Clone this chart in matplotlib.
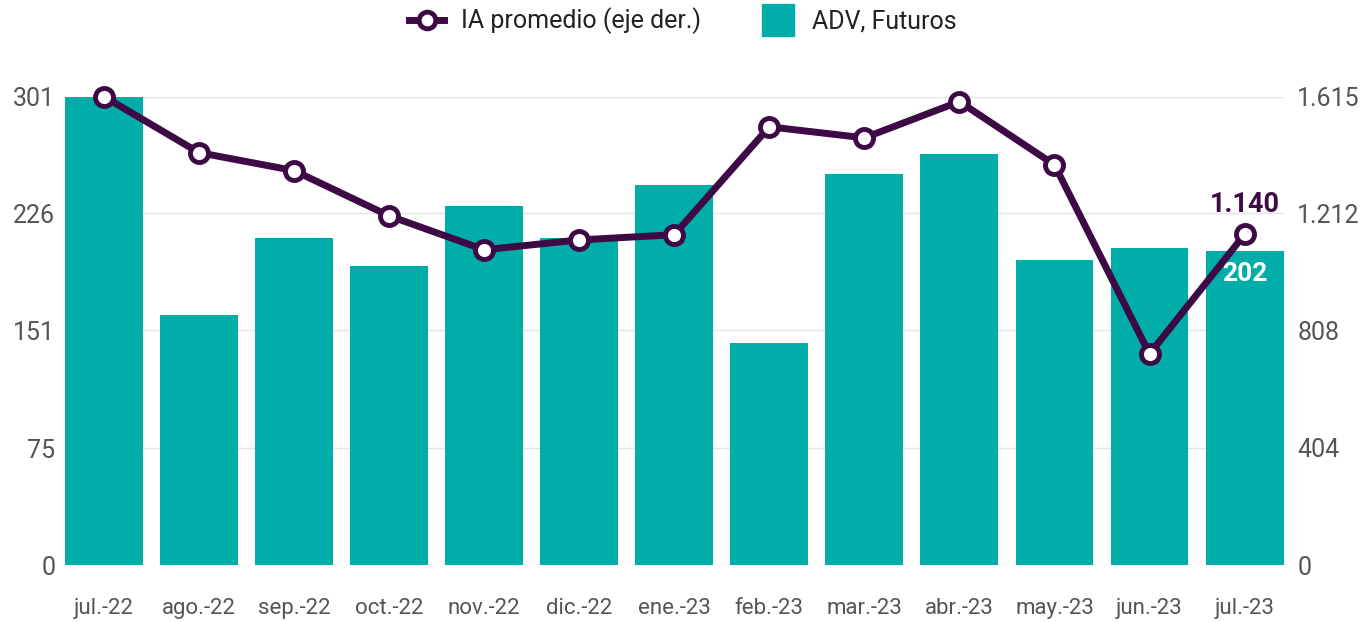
import numpy as np
import matplotlib.pyplot as plt
from matplotlib.lines import Line2D
from matplotlib.ticker import FuncFormatter

plt.rcParams['font.family'] = ['Roboto', 'DejaVu Sans']

months = ['jul.-22', 'ago.-22', 'sep.-22', 'oct.-22', 'nov.-22', 'dic.-22', 'ene.-23',
          'feb.-23', 'mar.-23', 'abr.-23', 'may.-23', 'jun.-23', 'jul.-23']
adv = [301, 161, 210, 192, 231, 210, 244, 143, 251, 264, 196, 204, 202]
ia = [1615, 1422, 1360, 1204, 1087, 1121, 1139, 1511, 1473, 1598, 1380, 728, 1140]

left_ticks = [0, 75, 151, 226, 301]
right_ticks = [0, 404, 808, 1212, 1615]

teal = '#00ADA8'
purple = '#3D0A45'
grey = '#555555'


def dots(v, pos=None):
    return f'{v:,.0f}'.replace(',', '.')


fig = plt.figure(figsize=(13.63, 6.22), dpi=100)
ax = fig.add_axes([0.0477, 0.0916, 0.894, 0.753])
ax2 = ax.twinx()

x = np.arange(len(months))
ax.bar(x, adv, width=0.82, color=teal, zorder=2)
ax.set_xlim(-0.41, len(months) - 0.59)
ax.set_ylim(0, 301)
ax.set_yticks(left_ticks)
ax.yaxis.set_major_formatter(FuncFormatter(dots))
ax.grid(axis='y', color='#e4e4e4', linewidth=1, zorder=0)
ax.set_axisbelow(True)
ax.set_xticks(x)
ax.set_xticklabels(months)

line, = ax2.plot(x, ia, color=purple, linewidth=5, marker='o', markersize=13,
                 markerfacecolor='white', markeredgecolor=purple, markeredgewidth=3.5,
                 zorder=5, clip_on=False)
ax2.set_ylim(0, 1615)
ax2.set_yticks(right_ticks)
ax2.yaxis.set_major_formatter(FuncFormatter(dots))

for a in (ax, ax2):
    for s in a.spines.values():
        s.set_visible(False)
    a.tick_params(length=0, labelsize=18, labelcolor=grey)
ax.tick_params(axis='y', pad=7)
ax2.tick_params(axis='y', pad=10)
ax.tick_params(axis='x', labelsize=16, pad=24)

# labels for the last point
ax.text(x[-1], adv[-1] - 7, dots(adv[-1]), ha='center', va='top',
        color='white', fontsize=19, fontweight='bold', zorder=6)
ax2.text(x[-1], ia[-1] + 55, dots(ia[-1]), ha='center', va='bottom',
         color=purple, fontsize=19.5, fontweight='bold', zorder=6)

# legend
h_line = Line2D([], [], color=purple, linewidth=5, marker='o', markersize=12,
                markerfacecolor='white', markeredgecolor=purple, markeredgewidth=3.5)
h_bar = Line2D([], [], linestyle='none', marker='s', markersize=23,
               markerfacecolor=teal, markeredgecolor=teal)
fig.legend(handles=[h_line, h_bar], labels=['IA promedio (eje der.)', 'ADV, Futuros'],
           loc='upper center', bbox_to_anchor=(0.501, 1.024),
           ncol=2, frameon=False, fontsize=18, columnspacing=2.4, handlelength=1.4,
           handletextpad=0.65, labelcolor='#222222')

fig.savefig('out.png', dpi=100)
